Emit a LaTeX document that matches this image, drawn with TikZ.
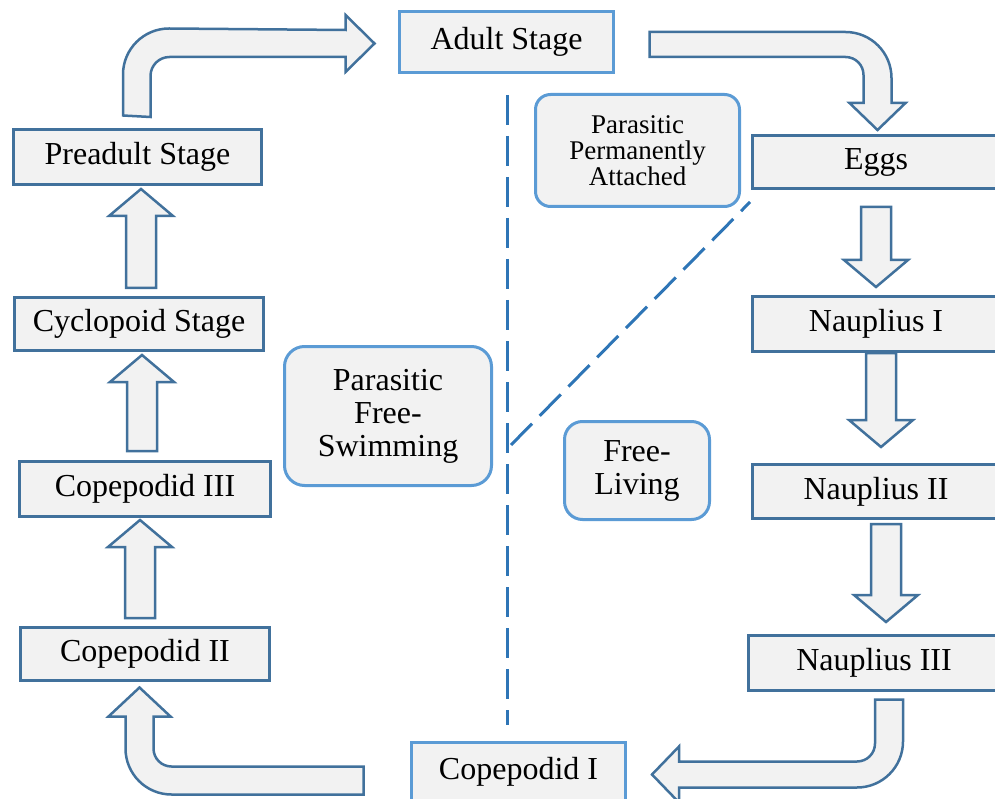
\documentclass[tikz,border=0pt]{standalone}
\usepackage{fontspec}
\setmainfont{Liberation Serif}
\usetikzlibrary{calc}

\definecolor{edgeblue}{HTML}{41719C}
\definecolor{lightblue}{HTML}{5B9BD5}
\definecolor{paneblue}{HTML}{2E75B6}
\definecolor{boxgray}{HTML}{F2F2F2}

\tikzset{
	stagebox/.style = {draw = edgeblue, fill = boxgray, line width = 3pt, inner sep = 0pt, align = center, font = \fontsize{32}{33}\selectfont},
	keybox/.style = {stagebox, draw = lightblue},
	zonebox/.style = {keybox, rounded corners = 18pt},
	blockarrow/.style = {draw = edgeblue, fill = boxgray, line width = 2.5pt},
	divider/.style = {draw = paneblue, line width = 3pt, dash pattern = on 30pt off 11pt}
}

% straight block arrows: #1 tail, #2 tip
\newcommand{\blockup}[2]{\draw [blockarrow] let \p1 = #1, \p2 = #2 in (\x1-15pt,\y1)--(\x1-15pt,\y2-27pt)--(\x1-32pt,\y2-27pt)--(\x1,\y2)--(\x1+32pt,\y2-27pt)--(\x1+15pt,\y2-27pt)--(\x1+15pt,\y1)--cycle;}
\newcommand{\blockdown}[2]{\draw [blockarrow] let \p1 = #1, \p2 = #2 in (\x1-15pt,\y1)--(\x1-15pt,\y2+27pt)--(\x1-32pt,\y2+27pt)--(\x1,\y2)--(\x1+32pt,\y2+27pt)--(\x1+15pt,\y2+27pt)--(\x1+15pt,\y1)--cycle;}

\begin{document}
\begin{tikzpicture}[x = 1pt, y = -1pt]
	\useasboundingbox (0,0) rectangle (995,799);
	% stages
	\node [keybox, minimum width = 214pt, minimum height = 61pt] (adult) at (506.5,42) {Adult Stage};
	\node [stagebox, minimum width = 248pt, minimum height = 55pt] (pre) at (137.5,157) {Preadult Stage};
	\node [stagebox, minimum width = 249pt, minimum height = 53pt] (cyc) at (139,324) {Cyclopoid Stage};
	\node [stagebox, minimum width = 251pt, minimum height = 55pt] (c3) at (145,489) {Copepodid III};
	\node [stagebox, minimum width = 249pt, minimum height = 53pt] (c2) at (145,654) {Copepodid II};
	\node [keybox, minimum width = 214pt, minimum height = 58pt] (c1) at (518.5,771.5) {Copepodid I};
	\node [stagebox, minimum width = 248pt, minimum height = 53pt] (eggs) at (876,162) {Eggs};
	\node [stagebox, minimum width = 248pt, minimum height = 55pt] (n1) at (876,324) {Nauplius I};
	\node [stagebox, minimum width = 248pt, minimum height = 54pt] (n2) at (876,491.5) {Nauplius II};
	\node [stagebox, minimum width = 252pt, minimum height = 55pt] (n3) at (874,663) {Nauplius III};
	% zones
	\node [zonebox, rounded corners = 15pt, minimum width = 204pt, minimum height = 112pt, font = \fontsize{27}{26}\selectfont] (ppa) at (637.5,150.5) {Parasitic\\Permanently\\Attached};
	\node [zonebox, rounded corners = 20pt, minimum width = 207pt, minimum height = 139pt] (pfs) at (388,416) {Parasitic\\Free-\\Swimming};
	\node [zonebox, minimum width = 145pt, minimum height = 98pt] (fl) at (637,470.5) {Free-\\Living};
	% dividers
	\coordinate (divtop) at (507,95);
	\coordinate (divbot) at (507,725);
	\coordinate (fork) at (511,445);
	\coordinate (divend) at (750,202);
	\draw [divider] (divtop)--(divbot);
	\draw [divider] (fork)--(divend);
	% cycle arrows
	\draw [blockarrow] ($(pre.north)+(-14.5,-12.5)$)--++(0,-41) .. controls +(0,-25.4) and +(-25.4,0) .. ++(46,-46)--($(adult.west)+(-52.5,-12)$)--++(0,-15)--++(29,28.5)--++(-29,28.5)--++(0,-15)--++(-176,0) .. controls +(-10.5,0) and +(0,-10.5) .. ++(-19,19)--++(0,41)--cycle;
	\draw [blockarrow] ($(adult.east)+(34.5,-10)$)--++(196,0) .. controls +(25.4,0) and +(0,-25.4) .. ++(46,46)--++(0,25)--++(14,0)--++(-28,27)--++(-28,-27)--++(14,0)--++(0,-28) .. controls +(0,-10) and +(10,0) .. ++(-18,-18)--++(-196,0)--cycle;
	\blockdown{($(eggs.south)+(0,17)$)}{($(n1.north)+(0,-8)$)}
	\blockdown{($(n1.south)+(5,0)$)}{($(n2.north)+(0,-16)$)}
	\blockdown{($(n2.south)+(10,4)$)}{($(n3.north)+(0,-12)$)}
	\draw [blockarrow] ($(n3.south)+(1,7.5)$)--++(28,0)--++(0,42) .. controls +(0,25.4) and +(25.4,0) .. ++(-46,46)--++(-178,0)--++(0,15)--++(-27,-28)--++(27,-28)--++(0,15)--++(178,0) .. controls +(10,0) and +(0,10) .. ++(18,-18)--cycle;
	\draw [blockarrow] ($(c1.west)+(-46.5,-5)$)--++(0,28)--++(-192,0) .. controls +(-25.4,0) and +(0,25.4) .. ++(-46,-46)--++(0,-32)--++(-17,0)--++(31,-29)--++(31,29)--++(-17,0)--++(0,32) .. controls +(0,10) and +(-10,0) .. ++(18,18)--cycle;
	\blockup{($(c2.north)+(-5,-8)$)}{($(c3.south)+(0,2)$)}
	\blockup{($(c3.north)+(-3,-9)$)}{($(cyc.south)+(0,3)$)}
	\blockup{($(cyc.north)+(2,-8)$)}{($(pre.south)+(0,3)$)}
\end{tikzpicture}
\end{document}
